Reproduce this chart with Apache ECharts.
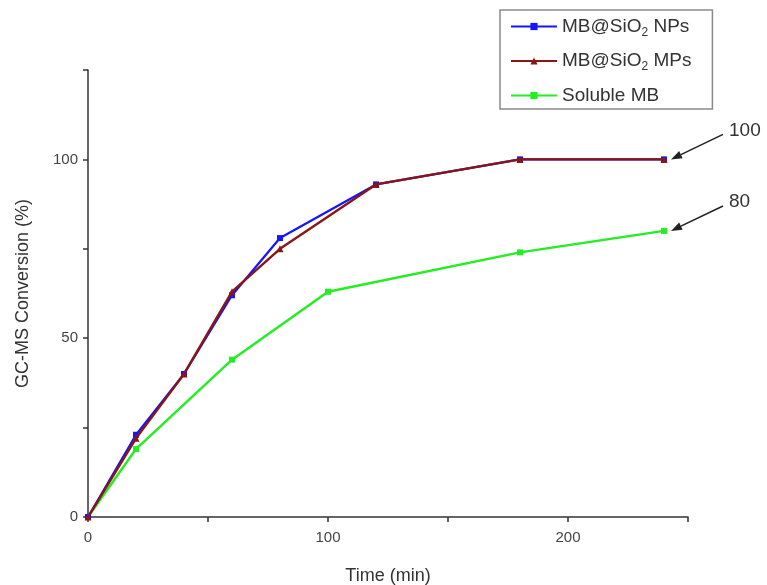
<!DOCTYPE html>
<html>
<head>
<meta charset="utf-8">
<script src="https://cdn.jsdelivr.net/npm/echarts@6/dist/echarts.min.js"></script>
<style>
html,body{margin:0;padding:0;background:#fff;}
#chart{width:767px;height:585px;}
</style>
</head>
<body>
<div id="chart"></div>
<script>
// Reaction time (min) and GC-MS conversion (%) for each catalyst
const npsTime = [0, 20, 40, 60, 80, 120, 180, 240];
const npsConv = [0, 23, 40, 62, 78, 93, 100, 100];
const mpsTime = [0, 20, 40, 60, 80, 120, 180, 240];
const mpsConv = [0, 22, 40, 63, 75, 93, 100, 100];
const solTime = [0, 20, 60, 100, 180, 240];
const solConv = [0, 19, 44, 63, 74, 80];
const seriesNames = ['MB@SiO{s|2} NPs', 'MB@SiO{s|2} MPs', 'Soluble MB'];
const xLabels = [0, 100, 200];
const yLabels = [0, 50, 100];

const pairs = (xs, ys) => xs.map((x, i) => [x, ys[i]]);
const axisColor = '#333';
const font = 'Liberation Sans, Arial, sans-serif';

const chart = echarts.init(document.getElementById('chart'));
chart.setOption({
  animation: false,
  backgroundColor: '#fff',
  grid: { left: 88, top: 70, right: 79, bottom: 68, containLabel: false, outerBoundsMode: 'none' },
  xAxis: {
    type: 'value', min: 0, max: 250, interval: 50,
    name: 'Time (min)', nameLocation: 'middle', nameGap: 50,
    nameTextStyle: { fontSize: 18, color: '#333', fontFamily: font },
    axisLine: { lineStyle: { color: axisColor, width: 1.5 } },
    axisTick: { length: 5, lineStyle: { color: axisColor, width: 1.5 } },
    axisLabel: {
      fontSize: 15, color: '#444', fontFamily: font, margin: 13,
      formatter: v => (xLabels.includes(v) ? String(v) : '')
    },
    splitLine: { show: false }
  },
  yAxis: {
    type: 'value', min: 0, max: 125, interval: 25,
    name: 'GC-MS Conversion (%)', nameLocation: 'middle', nameGap: 56,
    nameTextStyle: { fontSize: 18, color: '#333', fontFamily: font },
    axisLine: { show: true, lineStyle: { color: axisColor, width: 1.5 } },
    axisTick: { show: true, length: 5, lineStyle: { color: axisColor, width: 1.5 } },
    axisLabel: {
      fontSize: 15, color: '#444', fontFamily: font, margin: 10,
      formatter: v => (yLabels.includes(v) ? String(v) : '')
    },
    splitLine: { show: false }
  },
  legend: {
    orient: 'vertical', left: 500, top: 10,
    padding: [7, 21, 4, 10], itemGap: 13,
    itemWidth: 46, itemHeight: 9,
    borderColor: '#8a8a8a', borderWidth: 1.5,
    textStyle: {
      fontSize: 19, color: '#333', fontFamily: font,
      rich: { s: { fontSize: 12, padding: [12, 0, 0, 0], color: '#333', fontFamily: font } }
    },
    data: seriesNames
  },
  series: [
    {
      name: seriesNames[0], type: 'line', data: pairs(npsTime, npsConv),
      symbol: 'rect', symbolSize: 6,
      lineStyle: { color: '#1515ff', width: 2.2 },
      itemStyle: { color: '#1515ff' }, z: 2
    },
    {
      name: seriesNames[1], type: 'line', data: pairs(mpsTime, mpsConv),
      symbol: 'triangle', symbolSize: 7,
      lineStyle: { color: '#8b1515', width: 2.4 },
      itemStyle: { color: '#8b1515' }, z: 3
    },
    {
      name: seriesNames[2], type: 'line', data: pairs(solTime, solConv),
      symbol: 'rect', symbolSize: 6,
      lineStyle: { color: '#22ee22', width: 2.4 },
      itemStyle: { color: '#22ee22' }, z: 1
    }
  ]
});

// Arrows pointing at the final conversion of each curve, with its value
function arrowTo(x, y, value) {
  const tip = chart.convertToPixel({ gridIndex: 0 }, [x, y]);
  const tx = tip[0] + 7, ty = tip[1];
  const sx = tx + 52, sy = ty - 25;
  const ang = Math.atan2(ty - sy, tx - sx);
  const hl = 11, hw = 4;
  const bx = tx - hl * Math.cos(ang), by = ty - hl * Math.sin(ang);
  const px = -Math.sin(ang) * hw, py = Math.cos(ang) * hw;
  return [
    { type: 'line', shape: { x1: sx, y1: sy, x2: bx, y2: by },
      style: { stroke: '#222', lineWidth: 1.6 } },
    { type: 'polygon', shape: { points: [[tx, ty], [bx + px, by + py], [bx - px, by - py]] },
      style: { fill: '#222' } },
    { type: 'text', x: sx + 6, y: sy - 4,
      style: { text: String(value), fontSize: 19, fill: '#333', fontFamily: font,
               textAlign: 'left', textVerticalAlign: 'middle' } }
  ];
}
const lastNps = npsTime.length - 1, lastSol = solTime.length - 1;
chart.setOption({
  graphic: [
    ...arrowTo(npsTime[lastNps], npsConv[lastNps], npsConv[lastNps]),
    ...arrowTo(solTime[lastSol], solConv[lastSol], solConv[lastSol])
  ]
});
</script>
</body>
</html>
